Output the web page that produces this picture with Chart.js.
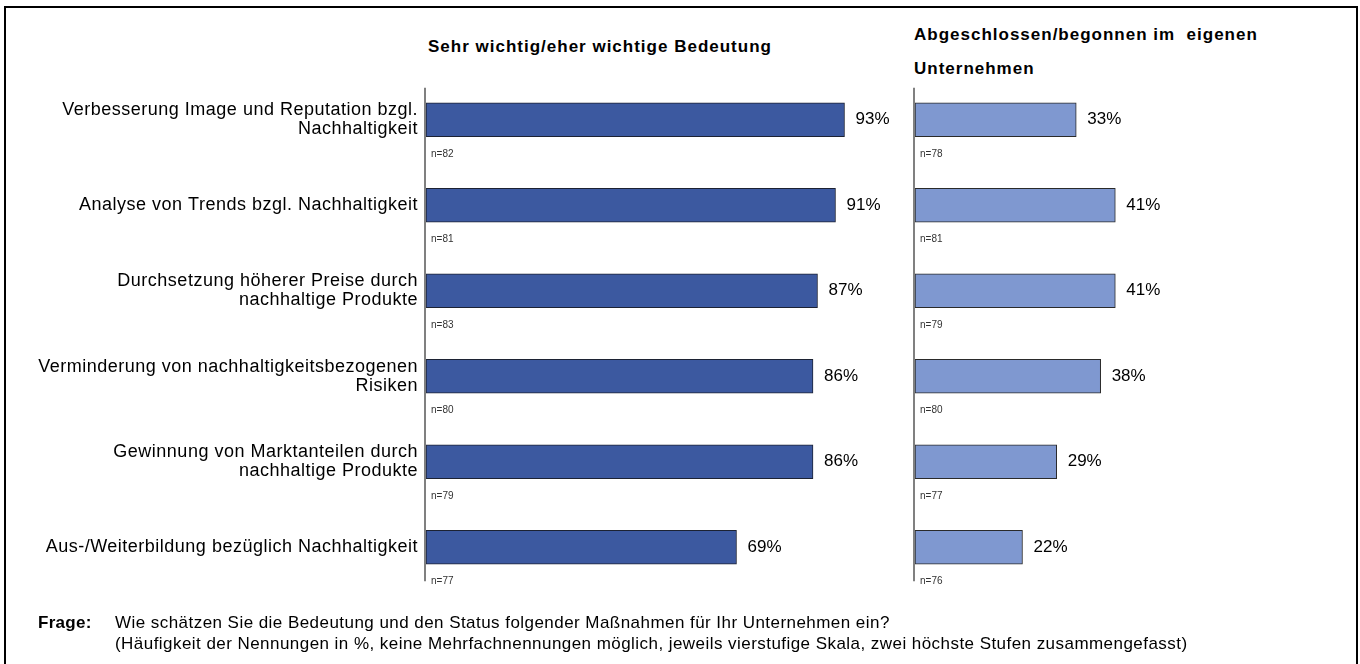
<!DOCTYPE html>
<html>
<head>
<meta charset="utf-8">
<script src="https://cdn.jsdelivr.net/npm/chart.js@4.4.0/dist/chart.umd.min.js"></script>
<style>
  body { margin: 0; background: #fff; font-family: "Liberation Sans", Arial, sans-serif; color: #000; }
  #frame { position: absolute; left: 4px; top: 6px; width: 1354px; height: 680px; border: 2px solid #000; box-sizing: border-box; }
  .title { position: absolute; font-weight: bold; font-size: 17px; letter-spacing: 1px; white-space: pre; }
  #leftTitle { left: 428px; top: 37px; }
  #rightTitle { left: 914px; top: 18px; line-height: 34px; }
  #note { position: absolute; left: 38px; top: 612px; font-size: 17px; line-height: 21px; letter-spacing: 0.45px; }
  #note b { display: inline-block; width: 77px; letter-spacing: 0.3px; }
  #leftWrap { position: absolute; left: 0; top: 0; width: 900px; height: 664px; }
  #rightWrap { position: absolute; left: 880px; top: 0; width: 480px; height: 664px; }
</style>
</head>
<body>
<div id="frame"></div>
<div class="title" id="leftTitle">Sehr wichtig/eher wichtige Bedeutung</div>
<div class="title" id="rightTitle">Abgeschlossen/begonnen im  eigenen
Unternehmen</div>
<div id="leftWrap"><canvas id="leftChart"></canvas></div>
<div id="rightWrap"><canvas id="rightChart"></canvas></div>
<div id="note"><b>Frage:</b>Wie schätzen Sie die Bedeutung und den Status folgender Maßnahmen für Ihr Unternehmen ein?<br>
<span style="display:inline-block;width:77px"></span>(Häufigkeit der Nennungen in %, keine Mehrfachnennungen möglich, jeweils vierstufige Skala, zwei höchste Stufen zusammengefasst)</div>

<script>
const categories = [
  ["Verbesserung Image und Reputation bzgl.", "Nachhaltigkeit"],
  "Analyse von Trends bzgl. Nachhaltigkeit",
  ["Durchsetzung höherer Preise durch", "nachhaltige Produkte"],
  ["Verminderung von nachhaltigkeitsbezogenen", "Risiken"],
  ["Gewinnung von Marktanteilen durch", "nachhaltige Produkte"],
  "Aus-/Weiterbildung bezüglich Nachhaltigkeit"
];
const importance = [93, 91, 87, 86, 86, 69];
const importanceN = [82, 81, 83, 80, 79, 77];
const started = [33, 41, 41, 38, 29, 22];
const startedN = [78, 81, 79, 80, 77, 76];

const FONT = "'Liberation Sans', Arial, sans-serif";

// a bit of letter spacing for the category labels
const spacing = {
  id: "spacing",
  beforeDraw(chart) { chart.ctx.letterSpacing = "0.5px"; }
};

// draws value labels, n= labels and the axis line from the bar positions
function labelPlugin(values, counts) {
  return {
    id: "labels",
    afterDatasetsDraw(chart) {
      const ctx = chart.ctx;
      const bars = chart.getDatasetMeta(0).data;
      const area = chart.chartArea;
      ctx.save();
      ctx.letterSpacing = "0px";
      const first = bars[0].getProps(["y", "height"], true);
      const last = bars[bars.length - 1].getProps(["y", "height"], true);
      ctx.strokeStyle = "#808080";
      ctx.lineWidth = 2;
      ctx.beginPath();
      ctx.moveTo(area.left - 1, first.y - first.height / 2 - 15);
      ctx.lineTo(area.left - 1, last.y + last.height / 2 + 17);
      ctx.stroke();
      bars.forEach((bar, i) => {
        const p = bar.getProps(["x", "y", "height"], true);
        ctx.fillStyle = "#000";
        ctx.font = "17px " + FONT;
        ctx.textAlign = "left";
        ctx.textBaseline = "middle";
        ctx.fillText(values[i] + "%", p.x + 11, p.y);
        ctx.fillStyle = "#333";
        ctx.font = "10px " + FONT;
        ctx.fillText("n=" + counts[i], area.left + 5, p.y + p.height / 2 + 17);
      });
      ctx.restore();
    }
  };
}

new Chart(document.getElementById("leftChart"), {
  type: "bar",
  data: {
    labels: categories,
    datasets: [{
      data: importance,
      backgroundColor: "#3C59A0",
      borderColor: "#1c2233",
      borderWidth: 1,
      borderSkipped: false,
      barThickness: 34
    }]
  },
  options: {
    indexAxis: "y",
    responsive: true,
    maintainAspectRatio: false,
    animation: false,
    layout: { padding: { top: 77, bottom: 74, left: 0, right: 24 } },
    plugins: { legend: { display: false }, tooltip: { enabled: false } },
    scales: {
      x: { min: 0, max: 100, display: false },
      y: {
        grid: { display: false, drawTicks: false },
        border: { display: false },
        ticks: { color: "#000", font: { family: FONT, size: 18, lineHeight: 1.05 }, padding: 8 },
        afterFit(scale) { scale.width = 426; }
      }
    }
  },
  plugins: [spacing, labelPlugin(importance, importanceN)]
});

new Chart(document.getElementById("rightChart"), {
  type: "bar",
  data: {
    labels: categories,
    datasets: [{
      data: started,
      backgroundColor: "#7F98D0",
      borderColor: "#2a2a2a",
      borderWidth: 1,
      borderSkipped: false,
      barThickness: 34
    }]
  },
  options: {
    indexAxis: "y",
    responsive: true,
    maintainAspectRatio: false,
    animation: false,
    layout: { padding: { top: 77, bottom: 74, left: 35, right: 103 } },
    plugins: { legend: { display: false }, tooltip: { enabled: false } },
    scales: {
      x: { min: 0, max: 70, display: false },
      y: { display: false }
    }
  },
  plugins: [labelPlugin(started, startedN)]
});
</script>
</body>
</html>
